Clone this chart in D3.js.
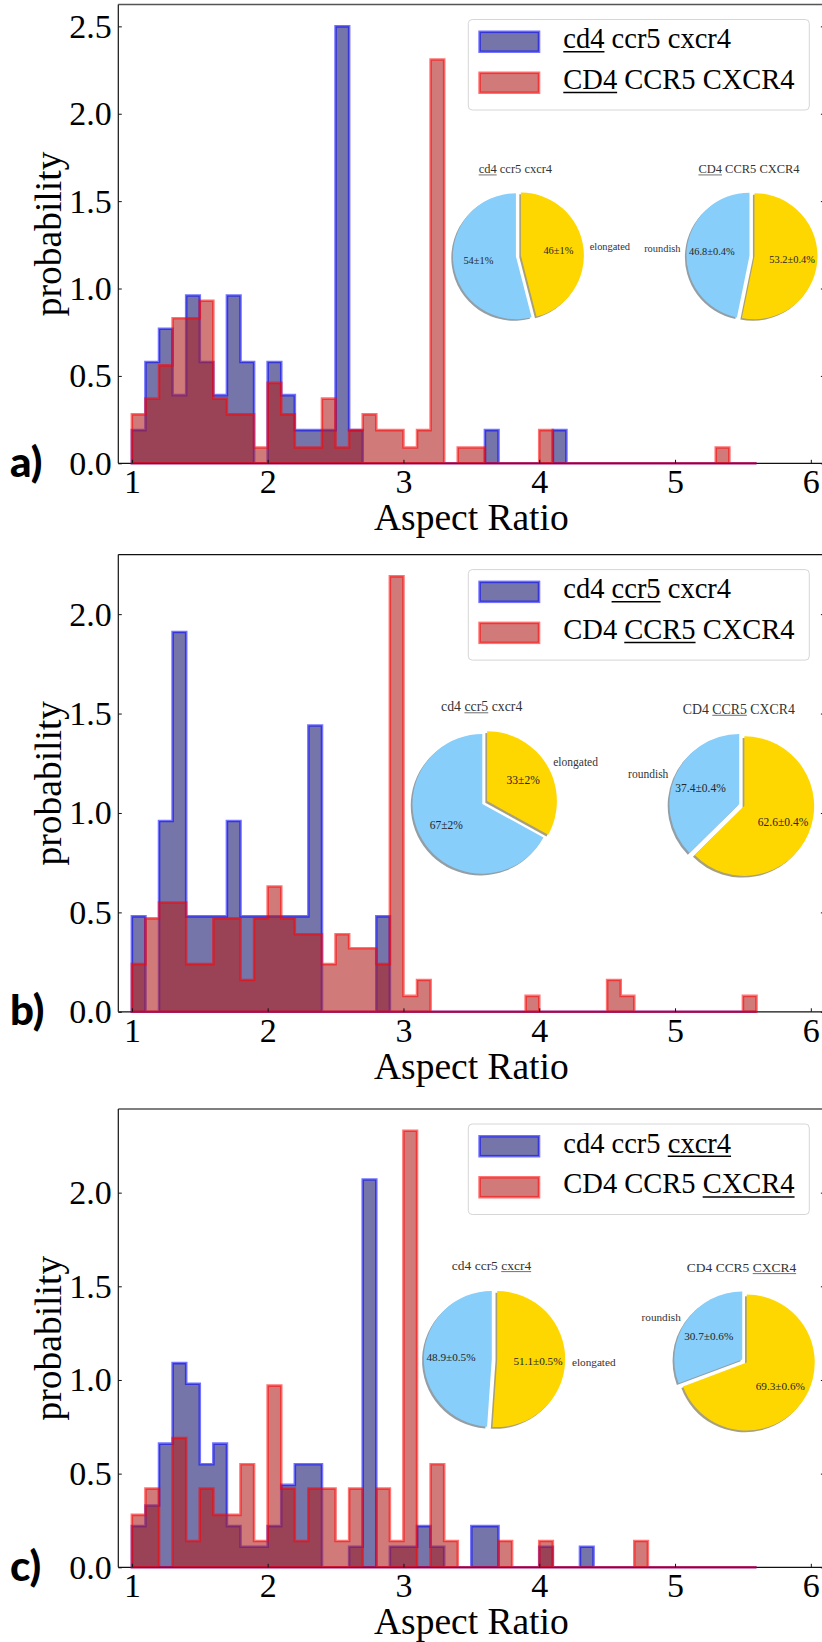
<!DOCTYPE html>
<html><head><meta charset="utf-8">
<script src="https://cdn.jsdelivr.net/npm/d3@7"></script>
<style>body{margin:0;background:#fff}svg{display:block}</style>
</head><body>
<svg id="chart" width="822" height="1642"></svg>
<script>
// ---------------- DATA ----------------
const binEdges = [1.0,1.1,1.2,1.3,1.4,1.5,1.6,1.7,1.8,1.9,2.0,2.1,2.2,2.3,2.4,2.5,2.6,2.7,2.8,2.9,3.0,3.1,3.2,3.3,3.4,3.5,3.6,3.7,3.8,3.9,4.0,4.1,4.2,4.3,4.4,4.5,4.6,4.7,4.8,4.9,5.0,5.1,5.2,5.3,5.4,5.5,5.6];

// panel a
const aBlue = [0.19,0.58,0.77,0.39,0.96,0.58,0.39,0.96,0.58,0,0.58,0.39,0.19,0.19,0.19,2.5,0.19,0,0,0,0,0,0,0,0,0,0.19,0,0,0,0,0.19,0,0,0,0,0,0,0,0,0,0,0,0,0,0];
const aRed  = [0.28,0.37,0.56,0.83,0.83,0.93,0.37,0.28,0.28,0.09,0.46,0.28,0.09,0.09,0.37,0.09,0.19,0.28,0.19,0.19,0.09,0.19,2.31,0,0.09,0.09,0,0,0,0,0.19,0,0,0,0,0,0,0,0,0,0,0,0,0.09,0,0];
// panel b
const bBlue = [0.48,0,0.96,1.91,0.48,0.48,0.48,0.96,0.48,0.48,0.48,0.48,0.48,1.44,0,0,0,0,0.48,0,0,0,0,0,0,0,0,0,0,0,0,0,0,0,0,0,0,0,0,0,0,0,0,0,0,0];
const bRed  = [0.24,0.47,0.55,0.55,0.24,0.24,0.47,0.47,0.16,0.47,0.63,0.47,0.39,0.39,0.24,0.39,0.32,0.32,0.24,2.19,0.08,0.16,0,0,0,0,0,0,0,0.08,0,0,0,0,0,0.16,0.08,0,0,0,0,0,0,0,0,0.08];
// panel c
const cBlue = [0.22,0.33,0.66,1.09,0.98,0.55,0.66,0.22,0.11,0.11,0.22,0.44,0.55,0.55,0,0,0.11,2.07,0,0.11,0.11,0.22,0.11,0,0,0.22,0.22,0,0,0,0.11,0,0,0.11,0,0,0,0,0,0,0,0,0,0,0,0];
const cRed  = [0.28,0.42,0,0.69,0.14,0.42,0.28,0.28,0.55,0.14,0.97,0.42,0.14,0.42,0.42,0.14,0.42,0,0.42,0.14,2.33,0,0.55,0.14,0,0,0,0.14,0,0,0.14,0,0,0,0,0,0,0.14,0,0,0,0,0,0,0,0];

const xTicks = [1,2,3,4,5,6];
const aYTicks = [0,0.5,1.0,1.5,2.0,2.5];
const bYTicks = [0,0.5,1.0,1.5,2.0];
const cYTicks = [0,0.5,1.0,1.5,2.0];
const panelLetters = ["a)","b)","c)"];
const xLabel = "Aspect Ratio";
const yLabel = "probability";

// legend / title text: [text, underlined]
const aNamesLow = [["cd4",true],[" ccr5 cxcr4",false]];
const aNamesUp  = [["CD4",true],[" CCR5 CXCR4",false]];
const bNamesLow = [["cd4 ",false],["ccr5",true],[" cxcr4",false]];
const bNamesUp  = [["CD4 ",false],["CCR5",true],[" CXCR4",false]];
const cNamesLow = [["cd4 ccr5 ",false],["cxcr4",true]];
const cNamesUp  = [["CD4 CCR5 ",false],["CXCR4",true]];

// pies: [roundish, elongated]
const pieCategories = ["roundish","elongated"];
const aPieLow = [54, 46],     aPctLow = ["54±1%","46±1%"];
const aPieUp  = [46.8, 53.2], aPctUp  = ["46.8±0.4%","53.2±0.4%"];
const bPieLow = [67, 33],     bPctLow = ["67±2%","33±2%"];
const bPieUp  = [37.4, 62.6], bPctUp  = ["37.4±0.4%","62.6±0.4%"];
const cPieLow = [48.9, 51.1], cPctLow = ["48.9±0.5%","51.1±0.5%"];
const cPieUp  = [30.7, 69.3], cPctUp  = ["30.7±0.6%","69.3±0.6%"];
const lowLabels = ["", "elongated"];
const upLabels  = ["roundish", ""];

// ---------------- STYLE / LAYOUT ----------------
const SERIF = "'Liberation Serif','Times New Roman',serif";
const BLUE_FACE = "#191970", BLUE_EDGE = "#0000ff";
const RED_FACE = "#b22222", RED_EDGE = "#ff0000";
const PIE_COLORS = ["#87cefa", "#ffd700"];
const AX_L = 118.3, AX_R = 824.4;

const panels = [
  {letter: panelLetters[0], top: 4.5, bottom: 463.3, blue: aBlue, red: aRed, yTicks: aYTicks,
   low: aNamesLow, up: aNamesUp, spine: "#555",
   pies: [{cx: 518.4, cy: 255.9, r: 63, v: aPieLow, pct: aPctLow, lab: lowLabels, title: aNamesLow},
          {cx: 752, cy: 255.9, r: 63, v: aPieUp, pct: aPctUp, lab: upLabels, title: aNamesUp}]},
  {letter: panelLetters[1], top: 554.6, bottom: 1011.8, blue: bBlue, red: bRed, yTicks: bYTicks,
   low: bNamesLow, up: bNamesUp, spine: "#111",
   pies: [{cx: 484.7, cy: 802.5, r: 69.8, v: bPieLow, pct: bPctLow, lab: lowLabels, title: bNamesLow},
          {cx: 741.8, cy: 805, r: 69.8, v: bPieUp, pct: bPctUp, lab: upLabels, title: bNamesUp}]},
  {letter: panelLetters[2], top: 1109, bottom: 1567.3, blue: cBlue, red: cRed, yTicks: cYTicks,
   low: cNamesLow, up: cNamesUp, spine: "#555",
   pies: [{cx: 494.5, cy: 1359, r: 68, v: cPieLow, pct: cPctLow, lab: lowLabels, title: cNamesLow},
          {cx: 744.5, cy: 1361, r: 68, v: cPieUp, pct: cPctUp, lab: upLabels, title: cNamesUp}]}
];

const svg = d3.select("#chart");

function richText(g, x, y, parts, size, anchor, fill) {
  const t = g.append("text").attr("x", x).attr("y", y)
    .attr("font-family", SERIF).attr("font-size", size)
    .attr("text-anchor", anchor).attr("fill", fill)
    .style("white-space", "pre");
  let idx = 0; const ul = [];
  parts.forEach(([s, u]) => {
    t.append("tspan").text(s);
    if (u) ul.push([idx, idx + s.length - 1]);
    idx += s.length;
  });
  const node = t.node();
  ul.forEach(([i0, i1]) => {
    const x0 = node.getStartPositionOfChar(i0).x, x1 = node.getEndPositionOfChar(i1).x;
    const yy = y + size * 0.125;
    g.append("line").attr("x1", x0).attr("x2", x1).attr("y1", yy).attr("y2", yy)
      .attr("stroke", fill).attr("stroke-width", Math.max(0.7, size * 0.052));
  });
}

function drawHist(g, x, y, vals, face, edge) {
  const pts = binEdges.map((e, i) => ({x: e, v: vals[Math.min(i, vals.length - 1)]}));
  const area = d3.area().x(d => x(d.x)).y0(y(0)).y1(d => y(d.v)).curve(d3.curveStepAfter);
  g.append("path").datum(pts).attr("d", area)
    .attr("fill", face).attr("fill-opacity", 0.6)
    .attr("stroke", edge).attr("stroke-opacity", 0.55)
    .attr("stroke-width", 2.6).attr("stroke-linejoin", "miter");
}

function drawPie(g, p) {
  const r = p.r, base = 10.4 * r / 63;
  const arcs = d3.pie().sort(null).startAngle(0).endAngle(-2 * Math.PI)(p.v);
  const arc = d3.arc().innerRadius(0).outerRadius(r);
  const ex = 0.04 * r;
  arcs.forEach(a => {
    a.mid = (a.startAngle + a.endAngle) / 2;
    a.ux = Math.sin(a.mid); a.uy = -Math.cos(a.mid);
    a.cx = p.cx + a.ux * ex; a.cy = p.cy + a.uy * ex;
  });
  // shadows
  arcs.forEach((a, i) => {
    const c = d3.rgb(PIE_COLORS[i]);
    g.append("path").attr("d", arc(a))
      .attr("transform", `translate(${a.cx - 0.025 * r},${a.cy + 0.025 * r})`)
      .attr("fill", d3.rgb(c.r * 0.3, c.g * 0.3, c.b * 0.3)).attr("fill-opacity", 0.5);
  });
  arcs.forEach((a, i) => {
    g.append("path").attr("d", arc(a))
      .attr("transform", `translate(${a.cx},${a.cy})`)
      .attr("fill", PIE_COLORS[i]);
  });
  arcs.forEach((a, i) => {
    g.append("text").attr("x", a.cx + a.ux * 0.6 * r).attr("y", a.cy + a.uy * 0.6 * r)
      .attr("text-anchor", "middle").attr("dominant-baseline", "central")
      .attr("font-family", SERIF).attr("font-size", base).attr("fill", "#262626")
      .text(p.pct[i]);
    if (p.lab[i]) {
      g.append("text").attr("x", a.cx + a.ux * 1.1 * r).attr("y", a.cy + a.uy * 1.1 * r)
        .attr("text-anchor", a.ux > 0 ? "start" : "end").attr("dominant-baseline", "central")
        .attr("font-family", SERIF).attr("font-size", base).attr("fill", "#333")
        .text(p.lab[i]);
    }
  });
  richText(g, p.cx - 3, p.cy - 1.31 * r, p.title, base * 1.2, "middle", "#333");
}

panels.forEach(P => {
  const g = svg.append("g");
  const x = d3.scaleLinear().domain([0.9, 6.1]).range([AX_L, AX_R]);
  const yMax = d3.max(P.blue.concat(P.red)) * 1.05;
  const y = d3.scaleLinear().domain([0, yMax]).range([P.bottom, P.top]);

  // frame (top spine may look lighter)
  g.append("line").attr("x1", AX_L).attr("x2", AX_R).attr("y1", P.top).attr("y2", P.top)
    .attr("stroke", P.spine).attr("stroke-width", 1.3);
  g.append("line").attr("x1", AX_L).attr("x2", AX_L).attr("y1", P.top).attr("y2", P.bottom)
    .attr("stroke", "#111").attr("stroke-width", 1.2);
  g.append("line").attr("x1", AX_R).attr("x2", AX_R).attr("y1", P.top).attr("y2", P.bottom)
    .attr("stroke", "#111").attr("stroke-width", 1.2);
  g.append("line").attr("x1", AX_L).attr("x2", AX_R).attr("y1", P.bottom).attr("y2", P.bottom)
    .attr("stroke", "#111").attr("stroke-width", 1.2);

  // histograms
  drawHist(g, x, y, P.blue, BLUE_FACE, BLUE_EDGE);
  drawHist(g, x, y, P.red, RED_FACE, RED_EDGE);

  // axes
  const fmt = d3.format(".1f");
  const ax = g.append("g").attr("transform", `translate(0,${P.bottom})`)
    .call(d3.axisBottom(x).tickValues(xTicks).tickFormat(d3.format("d")).tickSizeInner(-3.5).tickSizeOuter(0).tickPadding(6));
  const ay = g.append("g").attr("transform", `translate(${AX_L},0)`)
    .call(d3.axisLeft(y).tickValues(P.yTicks).tickFormat(fmt).tickSizeInner(-3.5).tickSizeOuter(0).tickPadding(6.5));
  const ar = g.append("g").attr("transform", `translate(${AX_R},0)`)
    .call(d3.axisRight(y).tickValues(P.yTicks).tickFormat("").tickSizeInner(-3.5).tickSizeOuter(0));
  [ax, ay, ar].forEach(a => {
    a.select(".domain").remove();
    a.selectAll(".tick line").attr("stroke", "#111").attr("stroke-width", 1);
    a.selectAll(".tick text").attr("font-family", SERIF).attr("font-size", 34).attr("fill", "#000");
  });

  // axis labels
  g.append("text").attr("x", (AX_L + AX_R) / 2).attr("y", P.bottom + 67)
    .attr("text-anchor", "middle").attr("font-family", SERIF).attr("font-size", 37.5).text(xLabel);
  g.append("text").attr("transform", `translate(61,${(P.top + P.bottom) / 2}) rotate(-90)`)
    .attr("text-anchor", "middle").attr("font-family", SERIF).attr("font-size", 37.5).text(yLabel);

  // panel letter
  g.append("text").attr("x", 10).attr("y", P.bottom + 13.5)
    .attr("font-family", "Lato, 'Open Sans', sans-serif").attr("font-weight", "900").attr("font-size", 42)
    .text(P.letter);

  // legend
  const L = g.append("g");
  L.append("rect").attr("x", 468.3).attr("y", P.top + 15).attr("width", 341).attr("height", 90.5)
    .attr("rx", 4).attr("fill", "#fff").attr("fill-opacity", 0.8).attr("stroke", "#d6d6d6").attr("stroke-width", 1);
  [[BLUE_FACE, BLUE_EDGE, P.low, 0], [RED_FACE, RED_EDGE, P.up, 1]].forEach(([f, e, parts, i]) => {
    L.append("rect").attr("x", 479.6).attr("y", P.top + 27.3 + i * 41).attr("width", 59.4).attr("height", 19.9)
      .attr("fill", f).attr("fill-opacity", 0.6).attr("stroke", e).attr("stroke-opacity", 0.55).attr("stroke-width", 2.6);
    richText(L, 563.3, P.top + 43.6 + i * 40.8, parts, 28.5, "start", "#000");
  });

  // pies
  P.pies.forEach(p => drawPie(g, p));
});
</script>
</body></html>
